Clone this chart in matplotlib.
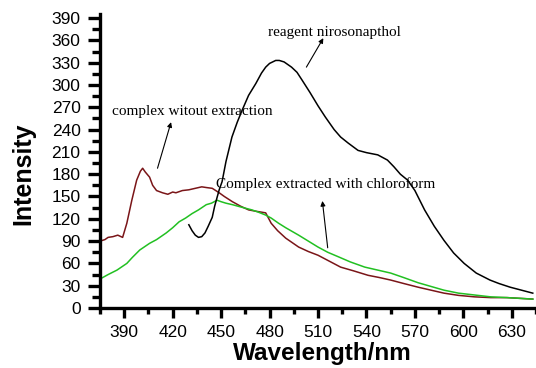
import numpy as np
import matplotlib.pyplot as plt
from matplotlib.ticker import MultipleLocator

# reagent nirosonapthol (black)
reagent_x = [430, 432, 434, 436, 438, 440, 442, 444.5, 446, 448.8, 450.6, 453, 456.7, 460, 463, 467, 471.5,
             475, 477.6, 480, 483.8, 486, 489, 493.6, 497, 500, 505, 510, 514.5, 520, 524, 528.6, 534.8,
             540, 547, 553, 557, 561, 565.5, 570, 576, 582, 588, 594, 600.5, 608, 616.5, 622, 629, 636, 643]
reagent_y = [112, 104, 98, 95, 96, 101, 110, 122, 137, 159, 170, 197, 230, 250, 266, 286, 302,
             316, 324, 329, 333, 333, 331, 324, 317, 307, 290, 272, 257, 240, 230, 222, 212,
             209, 206, 199, 190, 180, 172, 158, 132, 110, 91, 74, 60, 47, 37.6, 33, 28, 24, 20]

# complex without extraction (dark red)
brown_x = [375, 378, 380, 383, 386, 389, 391.6, 394.7, 397.7, 400, 401.4, 403, 405.7, 407.6, 410, 413.7,
           417, 420, 422, 426, 430, 434, 438, 441, 444.5, 448.8, 452, 457, 462, 467, 472, 477.6, 481,
           485, 490, 494, 498, 504, 510, 517, 524, 532, 541, 548, 555, 563, 572, 580, 588, 597, 607,
           617, 627, 635, 643]
brown_y = [90, 92, 95, 96, 98, 95, 114, 145, 172, 184, 188, 183, 176, 165, 158, 155,
           153, 156, 155, 158, 159, 161, 163, 162, 161, 155, 150, 143, 137, 132, 130, 128, 114,
           104, 94, 88, 82, 76, 71, 63, 55, 50, 44, 41, 37.6, 33, 28, 24, 20, 17, 15,
           14, 14, 13, 12]

# complex extracted with chloroform (green)
green_x = [375, 380, 385.5, 391.6, 395, 399.6, 405.7, 410, 416, 420, 424, 428, 432, 436, 440.8, 444,
           447.5, 450, 453, 457, 462, 469, 473, 477.6, 481, 485.6, 490, 498, 504, 510, 516, 522.5, 530,
           539, 547, 555, 563, 572, 580, 588, 597, 607, 617, 627, 635, 643]
green_y = [39, 45, 51, 60, 68, 78, 87, 92, 101, 108, 116, 121, 127, 132, 139, 141,
           145, 143, 141, 139, 136, 132, 129, 125, 121, 114, 108, 98, 90, 82, 75, 69, 62,
           55, 51, 47, 41, 34, 29, 24, 20, 17.5, 15, 14, 13, 12]

xticks = [390, 420, 450, 480, 510, 540, 570, 600, 630]
yticks = list(range(0, 391, 30))

fig = plt.figure(figsize=(5.36, 3.68), dpi=100)
ax = fig.add_axes([0.1866, 0.163, 0.8134, 0.798])

ax.plot(brown_x, brown_y, color='#7a1518', lw=1.1)
ax.plot(green_x, green_y, color='#22c022', lw=1.1)
ax.plot(reagent_x, reagent_y, color='black', lw=1.1)

ax.set_xlim(375, 645)
ax.set_ylim(0, 395)
ax.set_xticks(xticks)
ax.set_yticks(yticks)
ax.xaxis.set_minor_locator(MultipleLocator(15))
ax.yaxis.set_minor_locator(MultipleLocator(15))

for s in ['top', 'right']:
    ax.spines[s].set_visible(False)
for s in ['left', 'bottom']:
    ax.spines[s].set_linewidth(2.4)

ax.tick_params(which='both', direction='out', width=2.4, labelsize=12.5)
ax.tick_params(axis='y', which='major', length=9, pad=5)
ax.tick_params(axis='y', which='minor', length=5.5)
ax.tick_params(axis='x', which='major', length=7.5, pad=5)
ax.tick_params(axis='x', which='minor', length=4)
for lab in ax.get_xticklabels() + ax.get_yticklabels():
    lab.set_family('Liberation Sans')

ax.set_ylabel('Intensity', fontsize=18, fontweight='bold', family='Liberation Sans')
ax.yaxis.set_label_coords(-0.149, 0.456)
ax.set_xlabel('Wavelength/nm', fontsize=17.5, fontweight='bold', family='Liberation Sans')
ax.xaxis.set_label_coords(0.51, -0.115)

serif = 'Liberation Serif'
arrow = dict(arrowstyle='-|>', color='black', lw=0.8, mutation_scale=7, shrinkA=0, shrinkB=0)
ax.text(520, 371, 'reagent nirosonapthol', ha='center', va='center', fontsize=11, family=serif)
ax.annotate('', xy=(513.3, 363), xytext=(502.8, 324), arrowprops=arrow)
ax.text(432, 265, 'complex witout extraction', ha='center', va='center', fontsize=11, family=serif)
ax.annotate('', xy=(419, 250), xytext=(410.6, 188), arrowprops=arrow)
ax.text(514.5, 167, 'Complex extracted with chloroform', ha='center', va='center', fontsize=11, family=serif)
ax.annotate('', xy=(512.7, 144), xytext=(516, 81), arrowprops=arrow)

fig.savefig('out.png', dpi=100)
